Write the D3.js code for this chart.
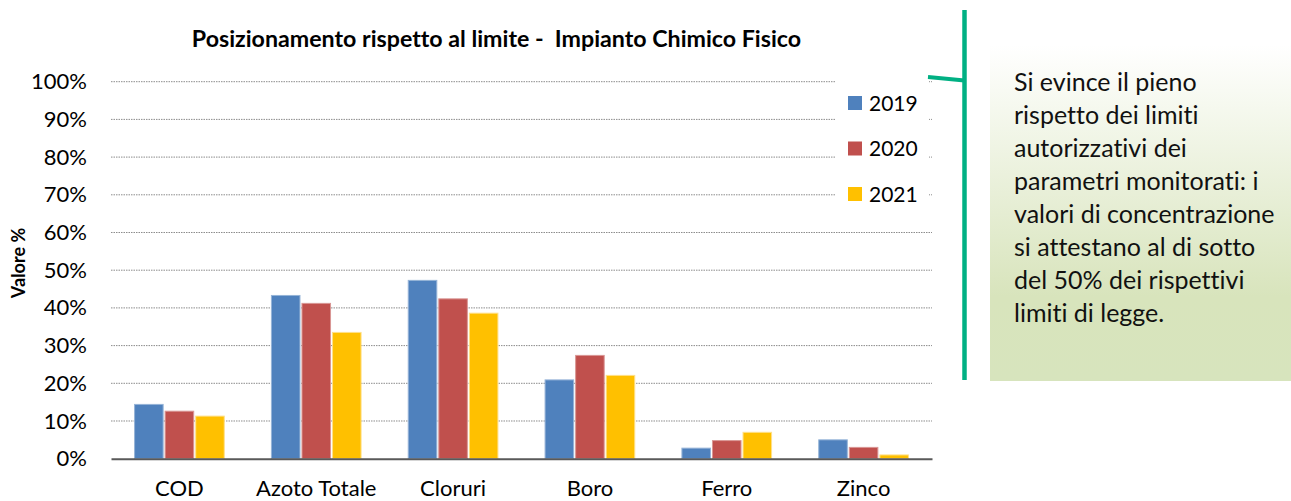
<!DOCTYPE html>
<html>
<head>
<meta charset="utf-8">
<script src="https://cdn.jsdelivr.net/npm/d3@7"></script>
<style>
  body { margin: 0; background: #fff; }
  svg { font-family: Lato, "Open Sans", sans-serif; font-variant-ligatures: none; }
</style>
</head>
<body>
<div id="chart"></div>
<script>
// data (percent of the legal limit)
var categories = ["COD", "Azoto Totale", "Cloruri", "Boro", "Ferro", "Zinco"];
var years = ["2019", "2020", "2021"];
var values2019 = [14.4, 43.3, 47.3, 20.9, 2.8, 5.0];
var values2020 = [12.6, 41.2, 42.4, 27.4, 4.8, 3.0];
var values2021 = [11.3, 33.5, 38.6, 22.1, 7.0, 1.0];
var yTicks = [0, 10, 20, 30, 40, 50, 60, 70, 80, 90, 100];
var colors = ["#4F81BD", "#C0504D", "#FFC000"];
var edgeColors = ["#95B3D7", "#D99694", "#FFE08A"];
var noteLines = [
  "Si evince il pieno",
  "rispetto dei limiti",
  "autorizzativi dei",
  "parametri monitorati: i",
  "valori di concentrazione",
  "si attestano al di sotto",
  "del 50% dei rispettivi",
  "limiti di legge."
];

const W = 1291, H = 501;
var margin = { top: 81.7, left: 111, right: W - 932, bottom: H - 458.7 };
var width = W - margin.left - margin.right,
    height = H - margin.top - margin.bottom;

var rows = categories.map((c, i) => ({
  cat: c,
  vals: [values2019[i], values2020[i], values2021[i]]
}));

var svg = d3.select("#chart").append("svg")
  .attr("width", W)
  .attr("height", H);

var g = svg.append("g")
  .attr("transform", "translate(" + margin.left + "," + margin.top + ")");

var y = d3.scaleLinear().domain([0, 100]).range([height, 0]);
var x0 = d3.scaleBand().domain(categories).range([0, width])
  .paddingInner(0.33).paddingOuter(0.165);
var x1 = d3.scaleBand().domain(years).range([0, x0.bandwidth()]);

// gridlines
g.selectAll(".grid")
  .data(yTicks.filter(d => d > 0))
  .join("line")
  .attr("x1", 0).attr("x2", width)
  .attr("y1", d => y(d)).attr("y2", d => y(d))
  .style("stroke", "#8c8c8c")
  .style("stroke-width", 1)
  .style("stroke-dasharray", "1.5,1");

// y axis labels
var yAxis = g.append("g")
  .call(d3.axisLeft(y).tickValues(yTicks).tickFormat(d => d + "%").tickSize(0).tickPadding(24));
yAxis.select(".domain").remove();
yAxis.selectAll("text")
  .style("font-family", "Lato")
  .style("font-size", "22px")
  .style("fill", "#000");

// bars
var groups = g.selectAll(".grp")
  .data(rows)
  .join("g")
  .attr("transform", d => "translate(" + x0(d.cat) + ",0)");

groups.selectAll("rect")
  .data(d => d.vals.map((v, j) => ({ year: years[j], v: v, j: j })))
  .join("rect")
  .attr("x", d => x1(d.year) + 1)
  .attr("width", x1.bandwidth() - 2)
  .attr("y", d => y(d.v))
  .attr("height", d => height - y(d.v))
  .style("fill", d => colors[d.j])
  .style("stroke", d => edgeColors[d.j])
  .style("stroke-width", 1);

// x axis
var xAxis = g.append("g")
  .attr("transform", "translate(0," + height + ")")
  .call(d3.axisBottom(x0).tickSize(0).tickPadding(22));
xAxis.select(".domain")
  .style("stroke", "#595959")
  .style("stroke-width", 2);
xAxis.selectAll("text")
  .style("font-family", "Lato")
  .style("font-size", "22px")
  .style("fill", "#000");

// title
svg.append("text")
  .attr("x", 496.5).attr("y", 47)
  .attr("text-anchor", "middle")
  .attr("xml:space", "preserve")
  .style("font-weight", "bold")
  .style("font-size", "23.2px")
  .text("Posizionamento rispetto al limite -  Impianto Chimico Fisico");

// y title
svg.append("text")
  .attr("transform", "translate(25,263) rotate(-90)")
  .attr("text-anchor", "middle")
  .style("font-weight", "bold")
  .style("font-size", "18px")
  .text("Valore %");

// legend
var legend = svg.append("g");
legend.append("rect")
  .attr("x", 835).attr("y", 75).attr("width", 94).attr("height", 138)
  .style("fill", "#fff");
var li = legend.selectAll(".li")
  .data(years)
  .join("g")
  .attr("transform", (d, i) => "translate(848," + (103 + i * 45.5) + ")");
li.append("rect")
  .attr("x", 0).attr("y", -7).attr("width", 14).attr("height", 14)
  .style("fill", (d, i) => colors[i]);
li.append("text")
  .attr("x", 21).attr("dy", "0.36em")
  .style("font-size", "21px")
  .text(d => d);

// callout box
var defs = svg.append("defs");
var grad = defs.append("linearGradient")
  .attr("id", "noteGrad").attr("x1", 0).attr("y1", 0).attr("x2", 0).attr("y2", 1);
grad.append("stop").attr("offset", "0%").attr("stop-color", "#ffffff");
grad.append("stop").attr("offset", "75%").attr("stop-color", "#D8E4BC");
grad.append("stop").attr("offset", "100%").attr("stop-color", "#D7E4BD");

svg.append("rect")
  .attr("x", 990).attr("y", 45).attr("width", 310).attr("height", 336)
  .style("fill", "url(#noteGrad)");

svg.append("line")
  .attr("x1", 964.5).attr("x2", 964.5).attr("y1", 10).attr("y2", 380)
  .style("stroke", "#00B083").style("stroke-width", 4.5);
svg.append("line")
  .attr("x1", 928).attr("y1", 77).attr("x2", 964.5).attr("y2", 80.5)
  .style("stroke", "#00B083").style("stroke-width", 4);

svg.append("g").selectAll("text")
  .data(noteLines)
  .join("text")
  .attr("x", 1014)
  .attr("y", (d, i) => 91 + i * 33)
  .style("font-size", "25px")
  .style("fill", "#111")
  .text(d => d);
</script>
</body>
</html>
